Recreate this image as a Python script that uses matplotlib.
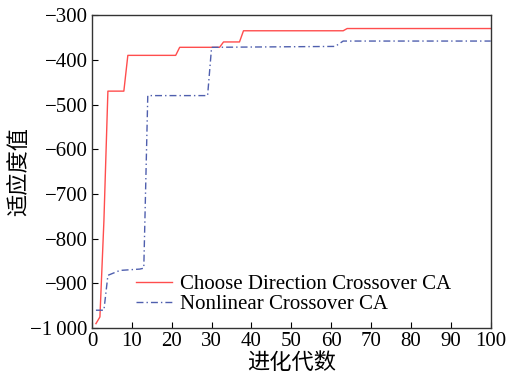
import matplotlib
matplotlib.use('Agg')
import matplotlib.pyplot as plt

# generations / fitness values
red_gen = [1, 2, 3, 4, 8, 9, 21, 22, 32, 33, 37, 38, 63, 64, 100]
red_val = [-990, -975, -760, -470, -470, -390, -390, -372, -372, -360, -360, -335, -335, -330, -330]

blue_gen = [1, 3, 4, 7, 12, 13, 14, 29, 30, 61, 63, 100]
blue_val = [-960, -960, -882, -871, -868, -866, -480, -480, -372, -370, -358, -358]

red_label = 'Choose Direction Crossover CA'
blue_label = 'Nonlinear Crossover CA'

yticks = [-1000, -900, -800, -700, -600, -500, -400, -300]
ytick_labels = ['\u22121\u2009000', '\u2212900', '\u2212800', '\u2212700',
                '\u2212600', '\u2212500', '\u2212400', '\u2212300']
xticks = list(range(0, 101, 10))

serif = ['Liberation Serif', 'DejaVu Serif']
cjk = ['Noto Sans CJK SC', 'DejaVu Sans']

plt.rcParams['font.family'] = serif
plt.rcParams['font.size'] = 15

fig, ax = plt.subplots(figsize=(5.08, 3.78), dpi=100)
fig.subplots_adjust(left=0.181, right=0.966, bottom=0.132, top=0.960)

ax.plot(red_gen, red_val, color='#ff4d4d', lw=1.0, label=red_label)
ax.plot(blue_gen, blue_val, color='#4f5fae', lw=1.0, dashes=(5, 2.2, 1, 2.2), label=blue_label)

ax.set_xlim(0, 100)
ax.set_ylim(-1000, -300)
ax.set_xticks(xticks)
ax.set_yticks(yticks)
ax.set_yticklabels(ytick_labels)
ax.tick_params(direction='in', length=4, width=0.8, top=False, right=False, pad=3)
for sp in ax.spines.values():
    sp.set_linewidth(1.0)
    sp.set_color('#333333')

ax.set_xlabel('进化代数', family=cjk, fontsize=16, labelpad=0)
ax.set_ylabel('适应度值', family=cjk, fontsize=16, labelpad=0)

ax.legend(loc='lower left', bbox_to_anchor=(0.08, 0.005), frameon=False,
          handlelength=1.7, handletextpad=0.4, labelspacing=0.0, borderpad=0.1,
          fontsize=15)

plt.savefig('out.png', dpi=100)
